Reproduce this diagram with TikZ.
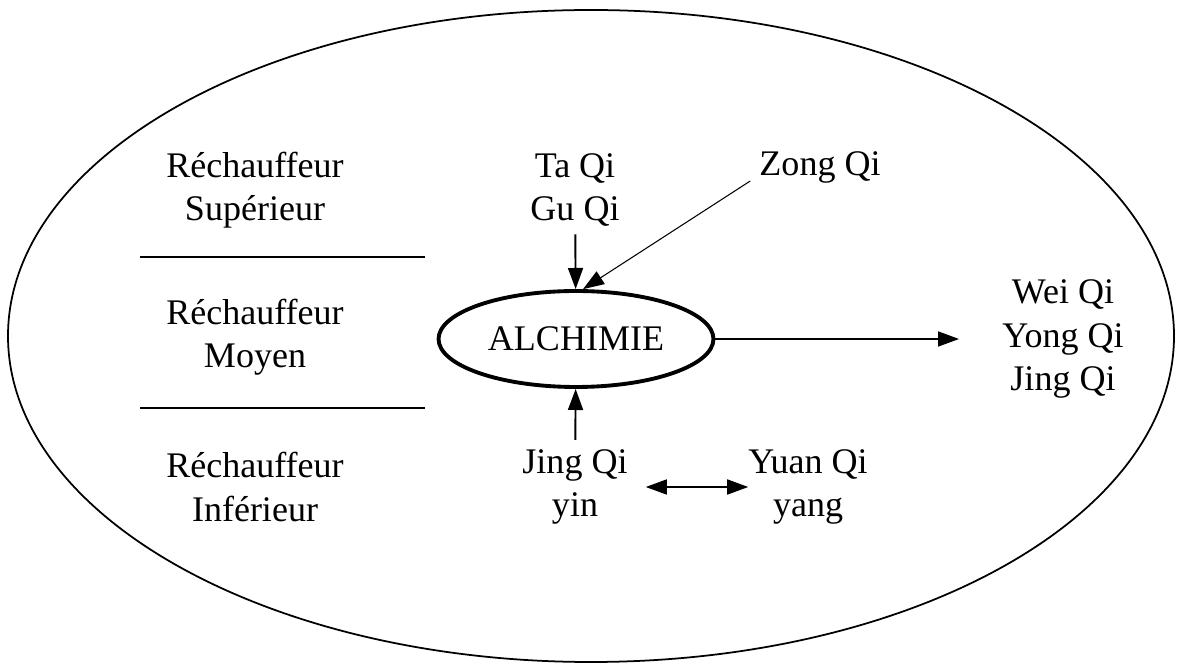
\documentclass[tikz,border=0pt]{standalone}
\usepackage{fontspec}
\setmainfont{Liberation Serif}
\usetikzlibrary{positioning, shapes.geometric, arrows.meta}

\begin{document}
\begin{tikzpicture}[x=0.02cm, y=-0.02cm,
        label/.style={align=center, font=\fontsize{20.5}{24.5}\selectfont},
        core/.style={ellipse, draw, line width=2.2pt, minimum width=5.5cm, minimum height=1.92cm, font=\fontsize{20.5}{24.5}\selectfont},
        flow/.style={line width=1.1pt, -{Triangle[length=12pt,width=8.5pt]}},
        sep/.style={line width=1.4pt}
    ]
    \useasboundingbox (0,0) rectangle (1183,671);
    % outer ellipse
    \draw[line width=1pt] (591,336) ellipse [x radius=583, y radius=326];

    % three burners
    \node (sup) [label] at (255,190) {Réchauffeur\\Supérieur};
    \node (moy) [label] at (255,337) {Réchauffeur\\Moyen};
    \node (inf) [label] at (255,487) {Réchauffeur\\Inférieur};
    \draw[sep] (140,257) -- (425,257);
    \draw[sep] (140,408) -- (425,408);

    \node (alch) [core] at (576,339) {ALCHIMIE};
    \node (tagu) [label] at (575,190) {Ta Qi\\Gu Qi};
    \node (zong) [label] at (820,167) {Zong Qi};
    \node (wei) [label] at (1063,339) {Wei Qi\\Yong Qi\\Jing Qi};
    \node (jing) [label] at (575,487) {Jing Qi\\yin};
    \node (yuan) [label] at (808,487) {Yuan Qi\\yang};
    \path (zong.west) ++(-3,14) coordinate (zfrom);

    \draw[flow, shorten <=1pt] (tagu) -- (alch);
    \draw[flow, line width=0.6pt] (zfrom) -- (alch.82);
    \draw[flow, shorten >=0.74cm] (alch) -- (wei.west);
    \draw[flow, shorten <=2pt] (jing) -- (alch);
    \draw[line width=1.1pt, {Triangle[length=12pt,width=8.5pt]}-{Triangle[length=12pt,width=8.5pt]}, shorten <=0.24cm, shorten >=-0.12cm] (jing) -- (yuan);
\end{tikzpicture}
\end{document}
